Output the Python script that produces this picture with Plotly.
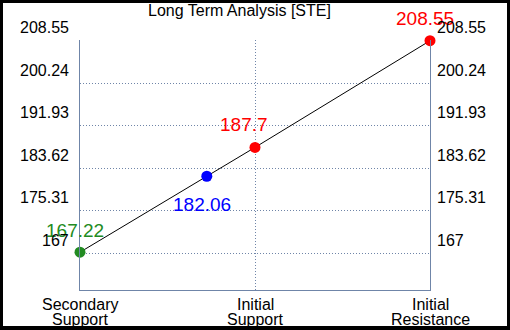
import plotly.graph_objects as go

# ---- data ----
title_text = "Long Term Analysis [STE]"
categories = ["Secondary<br>Support", "Initial<br>Support", "Initial<br>Resistance"]
level_values = [167.22, 187.7, 208.55]          # values at the three category levels
current_value = 182.06                           # current price (blue)
y_tick_vals = [167, 175.31, 183.62, 191.93, 200.24, 208.55]
y_tick_text = ["167", "175.31", "183.62", "191.93", "200.24", "208.55"]
point_labels = ["167.22", "182.06", "187.7", "208.55"]

# ---- derived positions via axis scale ----
cat_x = list(range(len(categories)))
cur_x = cat_x[0] + (current_value - level_values[0]) / (level_values[1] - level_values[0])
xs = [cat_x[0], cur_x, cat_x[1], cat_x[2]]
ys = [level_values[0], current_value, level_values[1], level_values[2]]

point_colors = ["#228B22", "#0000FF", "#FF0000", "#FF0000"]
label_shift = [(-5, 22), (-5, -28), (-11, 23), (-5, 22)]

FONT = "Arial, Liberation Sans, sans-serif"
AXC = "#6f85a8"

fig = go.Figure()
fig.add_trace(go.Scatter(
    x=xs, y=ys, mode="lines+markers",
    line=dict(color="black", width=1),
    marker=dict(color=point_colors, size=11),
    cliponaxis=False, hoverinfo="skip", showlegend=False,
))

ann = []
# data labels
for x, y, t, c, (dx, dy) in zip(xs, ys, point_labels, point_colors, label_shift):
    ann.append(dict(x=x, y=y, xref="x", yref="y", text=t, showarrow=False,
                    xanchor="center", yanchor="middle", xshift=dx, yshift=dy,
                    font=dict(family=FONT, size=19, color=c)))
# y tick labels (both sides, drawn above their grid lines)
for v, t in zip(y_tick_vals, y_tick_text):
    ann.append(dict(x=0, y=v, xref="paper", yref="y", text=t, showarrow=False,
                    xanchor="right", yanchor="middle", xshift=-9, yshift=13,
                    font=dict(family=FONT, size=16, color="black")))
    ann.append(dict(x=1, y=v, xref="paper", yref="y", text=t, showarrow=False,
                    xanchor="left", yanchor="middle", xshift=5, yshift=13,
                    font=dict(family=FONT, size=16, color="black")))
# category labels (two lines each)
for x, lab in zip(cat_x, categories):
    for i, line in enumerate(lab.split("<br>")):
        ann.append(dict(x=x, y=0, xref="x", yref="paper", text=line, showarrow=False,
                        xanchor="center", yanchor="middle", yshift=-14 - 15.5 * i,
                        font=dict(family=FONT, size=16, color="black")))
# title
ann.append(dict(x=(239 - 80) / 350, y=1, xref="paper", yref="paper", text=title_text,
                showarrow=False, xanchor="center", yanchor="middle", yshift=30,
                font=dict(family=FONT, size=16, color="black")))

fig.update_layout(
    width=510, height=330,
    margin=dict(l=80, r=80, t=40, b=40, pad=0),
    paper_bgcolor="black", plot_bgcolor="white",
    showlegend=False,
    annotations=ann,
    shapes=[dict(type="rect", xref="paper", yref="paper",
                 x0=(3 - 80) / 350, x1=(507 - 80) / 350,
                 y0=(290 - 326) / 250, y1=(290 - 3) / 250,
                 fillcolor="white", line=dict(width=0), layer="below")],
    xaxis=dict(range=[0, 2], tickvals=cat_x, showticklabels=False, ticks="",
               showgrid=True, gridcolor=AXC, griddash="1px,2px", gridwidth=1,
               showline=True, linecolor=AXC, linewidth=1, mirror=False,
               zeroline=False, fixedrange=True),
    yaxis=dict(range=[159.83, 208.69], tickvals=y_tick_vals, showticklabels=False, ticks="",
               showgrid=True, gridcolor=AXC, griddash="1px,2px", gridwidth=1,
               showline=True, linecolor=AXC, linewidth=1, mirror=True,
               zeroline=False, fixedrange=True),
)

fig.write_html("out.html", config={"displayModeBar": False},
               post_script="document.body.style.margin='0';document.body.style.overflow='hidden';")
